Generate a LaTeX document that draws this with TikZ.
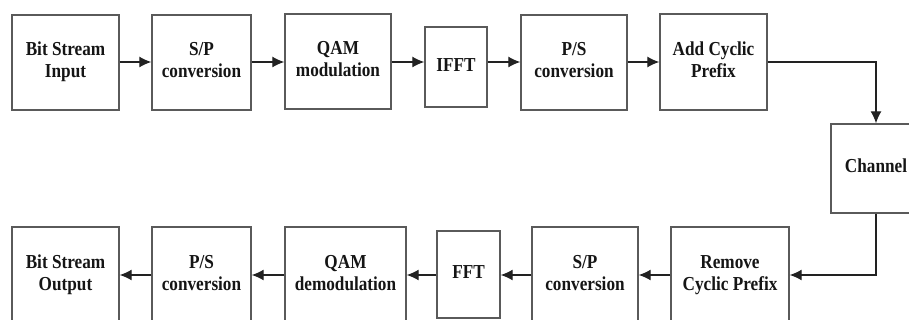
\documentclass[tikz,border=0pt]{standalone}
\usepackage{fontspec}
\usepackage{graphicx}
\setmainfont{Liberation Serif}
\usetikzlibrary{arrows.meta}
\definecolor{boxline}{HTML}{5A5A5A}
\definecolor{arrline}{HTML}{222222}
\definecolor{txt}{HTML}{151515}
\newcommand\lbl[1]{\scalebox{1}[1.15]{\begin{tabular}{@{}c@{}}#1\end{tabular}}}
\tikzset{
  blk/.style={draw=boxline, line width=1.4pt, fill=white, align=center,
    text=txt, font=\bfseries\fontsize{17.2}{19}\selectfont, inner sep=0pt},
  conn/.style={draw=arrline, line width=1.3pt, -{Latex[length=12pt,width=11pt]}}
}
\begin{document}
\begin{tikzpicture}[x=1pt,y=-1pt]
\useasboundingbox (0,0) rectangle (909,320);
\clip (0,0) rectangle (909,320);
\fill[white] (0,0) rectangle (909,320);
% top row
\node[blk, minimum width=107pt, minimum height=95pt] (in)   at (65.5,62.5) {\lbl{Bit Stream\\Input}};
\node[blk, minimum width=99pt,  minimum height=95pt] (sp1)  at (201.5,62.5) {\lbl{S/P\\conversion}};
\node[blk, minimum width=106pt, minimum height=95pt] (qam)  at (338,61.5) {\lbl{QAM\\modulation}};
\node[blk, minimum width=62pt,  minimum height=80pt] (ifft) at (456,67) {\lbl{IFFT}};
\node[blk, minimum width=106pt, minimum height=95pt] (ps1)  at (574,62.5) {\lbl{P/S\\conversion}};
\node[blk, minimum width=107pt, minimum height=96pt] (acp)  at (713.5,62) {\lbl{Add Cyclic\\Prefix}};
% channel
\node[blk, minimum width=90pt, minimum height=89pt] (ch) at (876,168.5) {\lbl{Channel}};
% bottom row
\node[blk, minimum width=118pt, minimum height=96pt] (rcp)  at (730,275) {\lbl{Remove\\Cyclic Prefix}};
\node[blk, minimum width=106pt, minimum height=96pt] (sp2)  at (585,275) {\lbl{S/P\\conversion}};
\node[blk, minimum width=63pt,  minimum height=87pt] (fft)  at (468.5,274.5) {\lbl{FFT}};
\node[blk, minimum width=121pt, minimum height=96pt] (qamd) at (345.5,275) {\lbl{QAM\\demodulation}};
\node[blk, minimum width=99pt,  minimum height=96pt] (ps2)  at (201.5,275) {\lbl{P/S\\conversion}};
\node[blk, minimum width=107pt, minimum height=96pt] (out)  at (65.5,275) {\lbl{Bit Stream\\Output}};
% connectors
\draw[conn] (in.east |- 0,62) -- (sp1.west |- 0,62);
\draw[conn] (sp1.east |- 0,62) -- (qam.west |- 0,62);
\draw[conn] (qam.east |- 0,62) -- (ifft.west |- 0,62);
\draw[conn] (ifft.east |- 0,62) -- (ps1.west |- 0,62);
\draw[conn] (ps1.east |- 0,62) -- (acp.west |- 0,62);
\draw[conn] (acp.east |- 0,62) -| (ch.north);
\draw[conn] (ch.south) |- (rcp.east);
\draw[conn] (rcp.west) -- (sp2.east);
\draw[conn] (sp2.west) -- (fft.east |- sp2.west);
\draw[conn] (fft.west |- sp2.west) -- (qamd.east);
\draw[conn] (qamd.west) -- (ps2.east);
\draw[conn] (ps2.west) -- (out.east);
\end{tikzpicture}
\end{document}
